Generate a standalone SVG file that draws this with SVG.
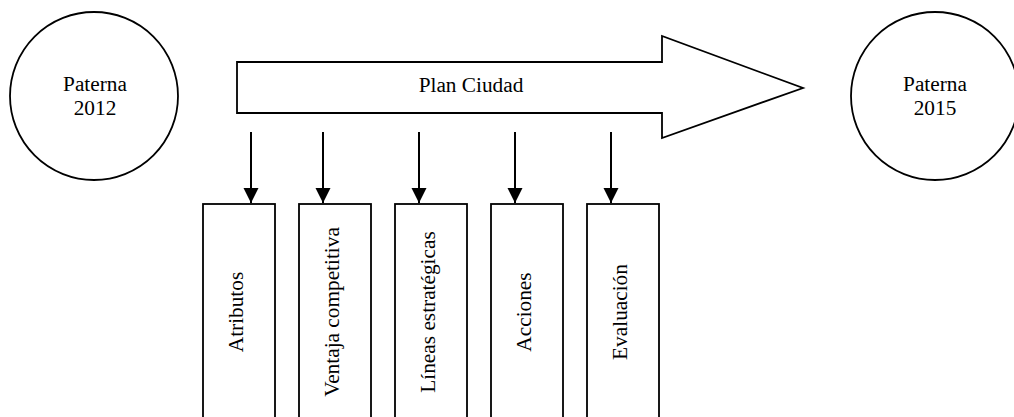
<svg xmlns="http://www.w3.org/2000/svg" width="1014" height="417" viewBox="0 0 1014 417">
<style>
.s{fill:#fff;stroke:#000;stroke-width:1.8}
.t{font-family:"Liberation Serif","Times New Roman",serif;font-size:21.3px;fill:#000;text-anchor:middle}
.c{stroke:#000;stroke-width:2;fill:none}
</style>
<defs>
<marker id="ah" markerUnits="userSpaceOnUse" markerWidth="16" markerHeight="16" viewBox="0 0 16 16" refX="15" refY="8" orient="auto">
<path d="M0,0.5 L15,8 L0,15.5 Z" fill="#000"/>
</marker>
</defs>
<rect width="1014" height="417" fill="#fff"/>
<g id="paterna2012">
<circle class="s" cx="94" cy="96" r="84"/>
<text class="t" x="95" y="91">Paterna</text>
<text class="t" x="95" y="115">2012</text>
</g>
<g id="paterna2015">
<circle class="s" cx="935" cy="96" r="84"/>
<text class="t" x="935" y="91">Paterna</text>
<text class="t" x="935" y="115">2015</text>
</g>
<g id="planciudad">
<path class="s" d="M237,62 L662,62 L662,36 L803,88 L662,138 L662,113 L237,113 Z"/>
<text class="t" x="471" y="92">Plan Ciudad</text>
</g>
<g id="connectors">
<line class="c" x1="251" y1="132" x2="251" y2="203" marker-end="url(#ah)"/>
<line class="c" x1="323" y1="132" x2="323" y2="203" marker-end="url(#ah)"/>
<line class="c" x1="419" y1="132" x2="419" y2="203" marker-end="url(#ah)"/>
<line class="c" x1="515" y1="132" x2="515" y2="203" marker-end="url(#ah)"/>
<line class="c" x1="611" y1="132" x2="611" y2="203" marker-end="url(#ah)"/>
</g>
<g id="atributos">
<rect class="s" x="203" y="204" width="72" height="220"/>
<text class="t" transform="translate(243,312) rotate(-90)">Atributos</text>
</g>
<g id="ventaja">
<rect class="s" x="299" y="204" width="72" height="220"/>
<text class="t" transform="translate(339,312) rotate(-90)">Ventaja competitiva</text>
</g>
<g id="lineas">
<rect class="s" x="395" y="204" width="72" height="220"/>
<text class="t" transform="translate(435,312) rotate(-90)">Líneas estratégicas</text>
</g>
<g id="acciones">
<rect class="s" x="491" y="204" width="72" height="220"/>
<text class="t" transform="translate(531,312) rotate(-90)">Acciones</text>
</g>
<g id="evaluacion">
<rect class="s" x="587" y="204" width="72" height="220"/>
<text class="t" transform="translate(627,312) rotate(-90)">Evaluación</text>
</g>
</svg>
